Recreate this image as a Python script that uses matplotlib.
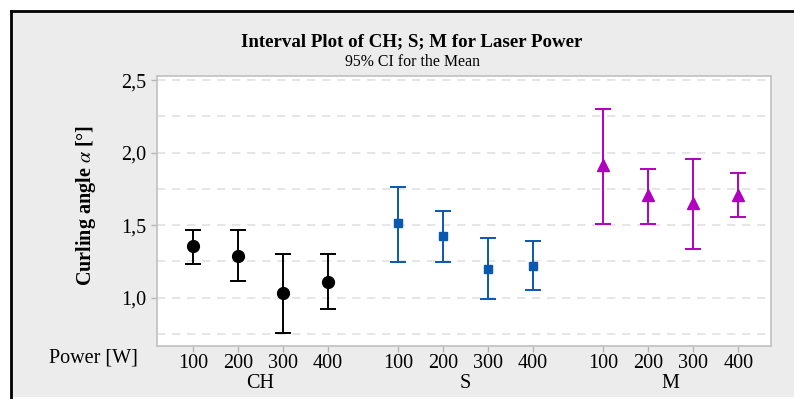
import matplotlib.pyplot as plt
from matplotlib.patches import Rectangle
from matplotlib.ticker import FixedLocator, FuncFormatter

# data (mean and 95% CI bounds)
groups = ["CH", "S", "M"]
powers = ["100", "200", "300", "400"]
means = {
    "CH": [1.357, 1.288, 1.032, 1.110],
    "S": [1.513, 1.423, 1.200, 1.220],
    "M": [1.915, 1.705, 1.650, 1.705],
}
ci_low = {
    "CH": [1.232, 1.113, 0.757, 0.924],
    "S": [1.244, 1.244, 0.994, 1.055],
    "M": [1.510, 1.510, 1.334, 1.557],
}
ci_high = {
    "CH": [1.467, 1.467, 1.303, 1.303],
    "S": [1.766, 1.600, 1.410, 1.390],
    "M": [2.299, 1.888, 1.954, 1.856],
}
styles = {
    "CH": dict(color="black", marker="o", ms=8.5),
    "S": dict(color="#0a58b0", marker="s", ms=6),
    "M": dict(color="#b000c0", marker="^", ms=8),
}

plt.rcParams["font.family"] = ["Liberation Serif", "DejaVu Serif"]
plt.rcParams["mathtext.fontset"] = "stix"

W, H = 794, 399
fig = plt.figure(figsize=(W / 100, H / 100), dpi=100)
fig.patch.set_facecolor("white")

def fx(px):
    return px / W

def fy(py):
    return 1 - py / H

# grey panel with black frame
fig.add_artist(Rectangle((fx(11), fy(397)), 1.0, fy(11) - fy(397), transform=fig.transFigure,
                         facecolor="#ececec", edgecolor="none", zorder=-10))
fig.add_artist(plt.Line2D([fx(11), 1.0], [fy(11), fy(11)], color="black", lw=2, transform=fig.transFigure))
fig.add_artist(plt.Line2D([fx(11), fx(11)], [fy(11), 0.0], color="black", lw=2, transform=fig.transFigure))

ax = fig.add_axes([fx(157), fy(346), fx(771) - fx(157), fy(76) - fy(346)])
ax.set_facecolor("white")

gap = 4.556
xpos_all = []
for g, name in enumerate(groups):
    xs = [g * gap + i for i in range(len(powers))]
    xpos_all += xs
    m = means[name]
    lo = [a - b for a, b in zip(m, ci_low[name])]
    hi = [b - a for a, b in zip(m, ci_high[name])]
    st = styles[name]
    ax.errorbar(xs, m, yerr=[lo, hi], fmt="none", ecolor=st["color"], elinewidth=1.4,
                capsize=5.5, capthick=1.4, zorder=3)
    ax.plot(xs, m, linestyle="none", marker=st["marker"], ms=st["ms"], color=st["color"], zorder=4)
    fig.text(fx(157) + (sum(xs) / 4 + 0.8) / 13.64 * (fx(771) - fx(157)), fy(383), name,
             ha="center", va="center", fontsize=14.5)

ax.set_xlim(-0.8, 12.84)
ax.set_ylim(0.667, 2.528)

for yv in [0.75, 1.0, 1.25, 1.5, 1.75, 2.0, 2.25, 2.5]:
    ax.axhline(yv, color="#e2e2e2", lw=1.2, dashes=(5, 4), zorder=1)

ax.yaxis.set_major_locator(FixedLocator([1.0, 1.5, 2.0, 2.5]))
ax.yaxis.set_major_formatter(FuncFormatter(lambda v, p: f"{v:.1f}".replace(".", ",")))
ax.set_xticks(xpos_all)
ax.set_xticklabels(powers * 3)
ax.tick_params(axis="both", colors="#b5b5b5", labelcolor="black", labelsize=14.5, length=4, width=1)
ax.tick_params(axis="x", pad=2)
for sp in ax.spines.values():
    sp.set_color("#c0c0c0")
    sp.set_linewidth(1.2)

fig.text(fx(138), fy(358), "Power [W]", ha="right", va="center", fontsize=14.5)
fig.text(fx(86), fy(205), r"Curling angle $\alpha$ [°]", rotation=90, ha="center", va="center",
         fontsize=14.5, fontweight="bold")
fig.text(fx(412), fy(42), "Interval Plot of CH; S; M for Laser Power", ha="center", va="center",
         fontsize=13.6, fontweight="bold")
fig.text(fx(412), fy(62), "95% CI for the Mean", ha="center", va="center", fontsize=11.4)

fig.savefig("out.png", dpi=100, facecolor=fig.get_facecolor())
